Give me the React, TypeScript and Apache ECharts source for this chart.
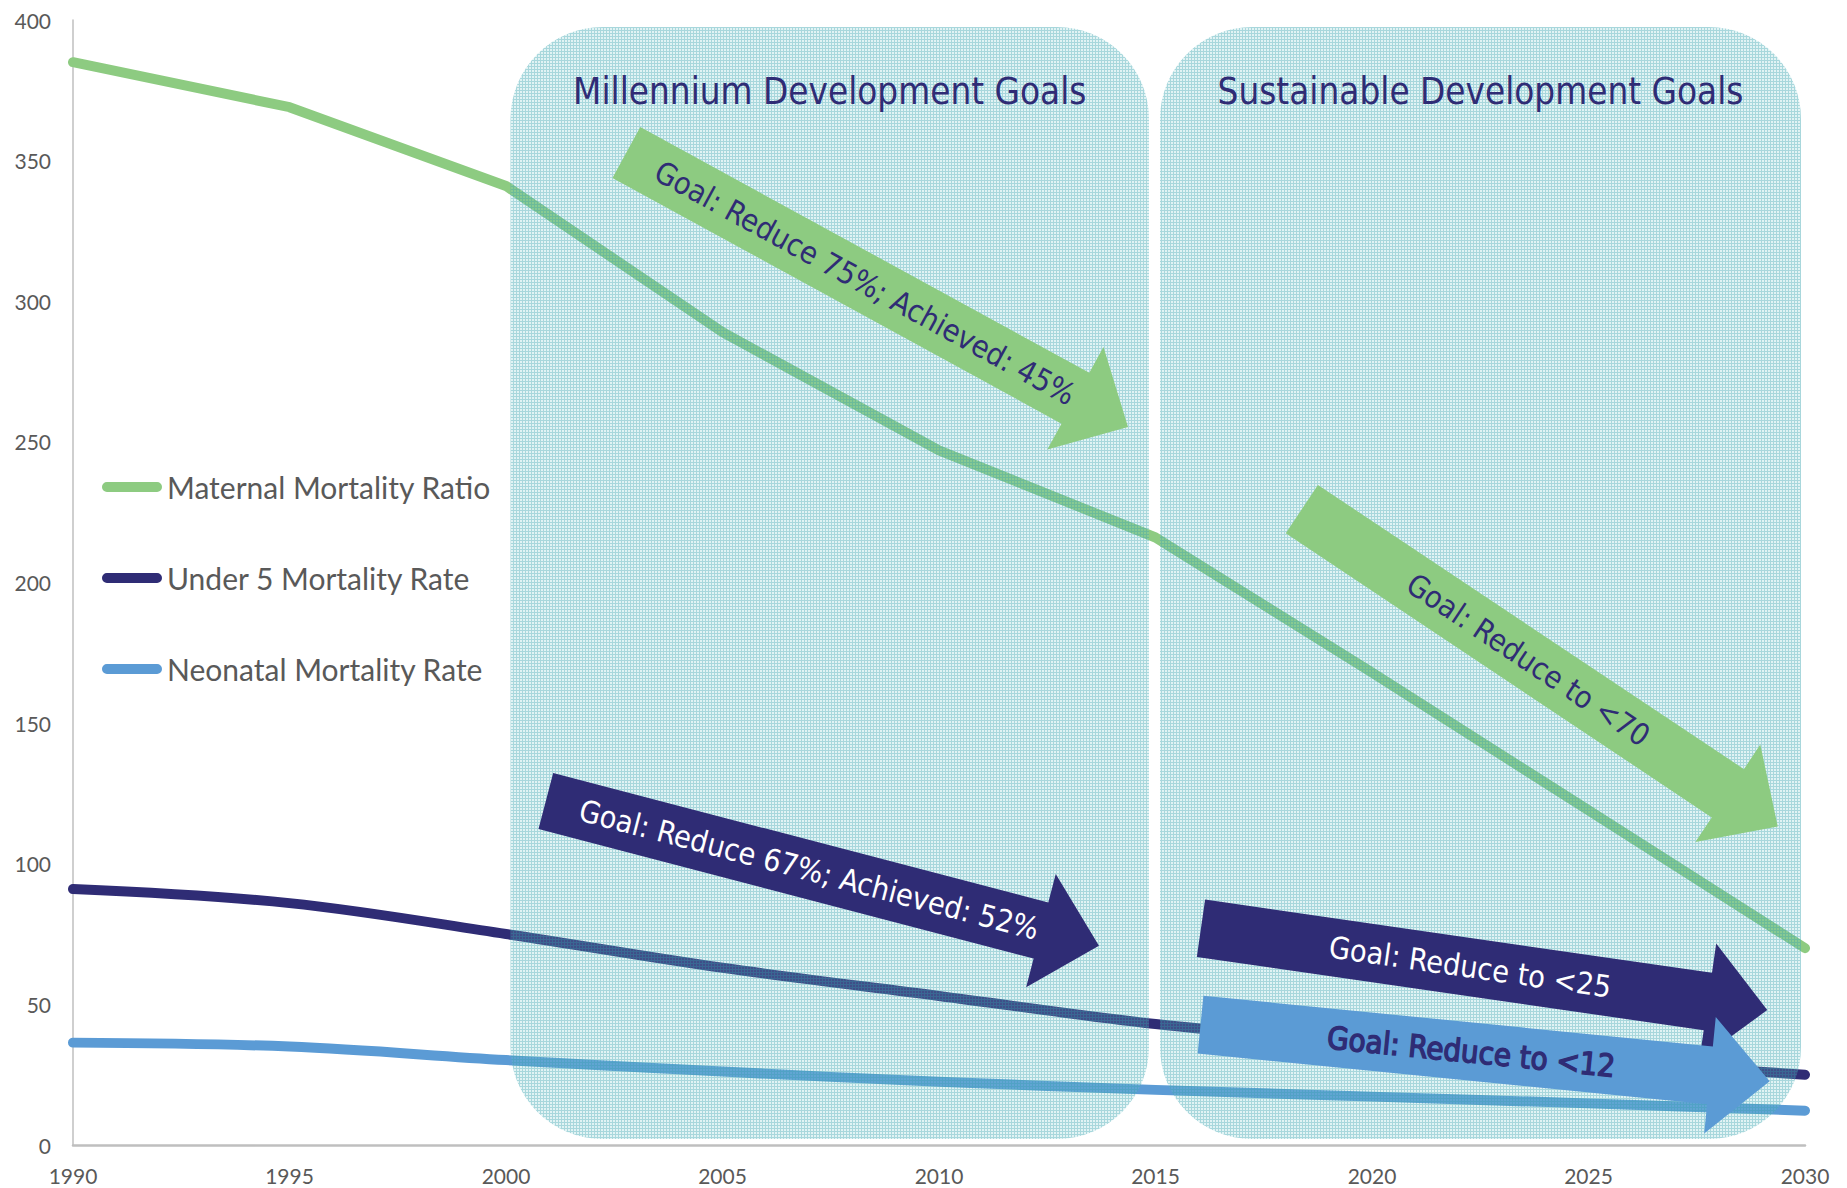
import React, { useEffect, useRef } from "react";
import * as echarts from "echarts";

// ---- data ----
const years = [1990, 1995, 2000, 2005, 2010, 2015, 2020, 2025, 2030];
const maternal = [385, 369, 341, 289, 247, 216, 168, 119, 70];
const under5 = [91, 86, 75, 63, 53, 43, 36, 30, 25];
const neonatal = [36.4, 35, 30.2, 26.1, 22.5, 19.6, 17.2, 14.8, 12.2];
const seriesNames = ["Maternal Mortality Ratio", "Under 5 Mortality Rate", "Neonatal Mortality Rate"];
const periodNames = ["Millennium Development Goals", "Sustainable Development Goals"];
const periodStart = [2000, 2015];
const periodEnd = [2015, 2030];
const goalTexts = [
  "Goal: Reduce 75%; Achieved: 45%",
  "Goal: Reduce to <70",
  "Goal: Reduce 67%; Achieved: 52%",
  "Goal: Reduce to <25",
  "Goal: Reduce to <12",
];
// arrow tail anchor (year, value) and slope angle in degrees
const goalYear = [2002.78, 2018.38, 2000.92, 2016.05, 2016.04];
const goalValue = [352.9, 226.1, 122.3, 77.05, 42.8];
const goalAngle = [28.7, 33.7, 14.65, 8.2, 5.7];
const goalSeries = [0, 0, 1, 1, 2];

// ---- styles ----
const GREEN = "#8dcb81";
const NAVY = "#2f2c75";
const BLUE = "#5b9bd5";
const colors = [GREEN, NAVY, BLUE];
const goalTextColor = [NAVY, NAVY, "#ffffff", "#ffffff", NAVY];
const goalHeavy = [false, false, false, false, true];
const ARROW_FONT = "'DejaVu Sans Condensed', 'DejaVu Sans', sans-serif";

function makePattern(): HTMLCanvasElement {
  const c = document.createElement("canvas");
  c.width = 3;
  c.height = 3;
  const ctx = c.getContext("2d")!;
  ctx.fillStyle = "rgba(120,200,205,0.22)";
  ctx.fillRect(0, 0, 3, 3);
  ctx.clearRect(0, 0, 3, 1);
  ctx.clearRect(0, 0, 1, 3);
  ctx.fillStyle = "rgba(70,170,180,0.47)";
  ctx.fillRect(0, 0, 3, 1);
  ctx.fillRect(0, 1, 1, 2);
  return c;
}

export default function App() {
  const ref = useRef<HTMLDivElement>(null);
  useEffect(() => {
    const chart = echarts.init(ref.current!, null, { renderer: "svg" });
    const data = [maternal, under5, neonatal];
    const smooth = [false, 0.35, 0.35];
    const legendIcon =
      "path://M5,0 L56,0 A5,5 0 0 1 56,10 L5,10 A5,5 0 0 1 5,0 Z";
    chart.setOption({
      animation: false,
      grid: { left: 73, right: 42, top: 20, bottom: 43 },
      xAxis: {
        type: "value",
        min: 1990,
        max: 2030,
        interval: 5,
        axisLine: { show: true, lineStyle: { color: "#bfbfbf", width: 2.5 } },
        axisTick: { show: false },
        splitLine: { show: false },
        axisLabel: {
          color: "#595959",
          fontFamily: "Lato",
          fontSize: 21,
          margin: 20,
          formatter: (v: number) => String(v),
        },
      },
      yAxis: {
        type: "value",
        min: 0,
        max: 400,
        interval: 50,
        axisLine: { show: true, lineStyle: { color: "#bfbfbf", width: 1.5 } },
        axisTick: { show: false },
        splitLine: { show: false },
        axisLabel: { color: "#595959", fontFamily: "Lato", fontSize: 21, margin: 22 },
      },
      legend: {
        orient: "vertical",
        left: 97,
        top: 466,
        itemWidth: 60,
        itemHeight: 10,
        itemGap: 59,
        textStyle: { color: "#595959", fontFamily: "Lato", fontSize: 30, lineHeight: 32 },
        data: seriesNames.map((n) => ({ name: n, icon: legendIcon })),
      },
      series: seriesNames.map((n, i) => ({
        name: n,
        type: "line",
        smooth: smooth[i],
        symbol: "none",
        z: 2,
        color: colors[i],
        itemStyle: { color: colors[i] },
        lineStyle: { color: colors[i], width: 10, cap: "round", join: "round" },
        data: years.map((y, k) => [y, data[i][k]]),
      })),
    });

    const px = (x: number, y: number) => chart.convertToPixel({ gridIndex: 0 }, [x, y]) as number[];
    const pattern = makePattern();
    const graphics: any[] = [];
    const topY = px(1990, 400)[1] + 7;
    const botY = px(1990, 0)[1] - 6;
    periodNames.forEach((name, i) => {
      const x0 = px(periodStart[i], 0)[0] + 4.5;
      const x1 = px(periodEnd[i], 0)[0] - (i === 0 ? 6.5 : 4);
      graphics.push({
        type: "rect",
        z: 3,
        shape: { x: x0, y: topY, width: x1 - x0, height: botY - topY, r: 92 },
        style: {
          fill: { image: pattern, repeat: "repeat", imageWidth: 3, imageHeight: 3 },
        },
      });
      graphics.push({
        type: "text",
        z: 7,
        x: (x0 + x1) / 2,
        y: topY + 64,
        style: {
          text: name,
          fill: NAVY,
          fontFamily: ARROW_FONT,
          fontSize: 36.5,
          align: "center",
          verticalAlign: "middle",
        },
      });
    });

    const L = 572, SW = 29, HL = 60, HW = 58.5;
    goalTexts.forEach((t, i) => {
      const [tx, ty] = px(goalYear[i], goalValue[i]);
      const a = (goalAngle[i] * Math.PI) / 180;
      graphics.push({
        type: "polygon",
        z: 5,
        x: tx,
        y: ty,
        rotation: -a,
        shape: {
          points: [
            [0, -SW],
            [L - HL, -SW],
            [L - HL, -HW],
            [L, 0],
            [L - HL, HW],
            [L - HL, SW],
            [0, SW],
          ],
        },
        style: { fill: colors[goalSeries[i]] },
      });
      const d = 272;
      const heavy = goalHeavy[i];
      graphics.push({
        type: "text",
        z: 6,
        x: tx + d * Math.cos(a),
        y: ty + d * Math.sin(a),
        rotation: -a,
        style: {
          text: t,
          fill: goalTextColor[i],
          fontFamily: ARROW_FONT,
          fontSize: heavy ? 31 : 30.5,
          fontWeight: "normal",
          stroke: heavy ? goalTextColor[i] : undefined,
          lineWidth: heavy ? 1.4 : 0,
          align: "center",
          verticalAlign: "middle",
        },
      });
    });
    chart.setOption({ graphic: { elements: graphics } });
    return () => chart.dispose();
  }, []);
  return (
    <div
      ref={ref}
      style={{ position: "fixed", left: 0, top: 0, width: 1847, height: 1188, background: "#fff" }}
    />
  );
}
